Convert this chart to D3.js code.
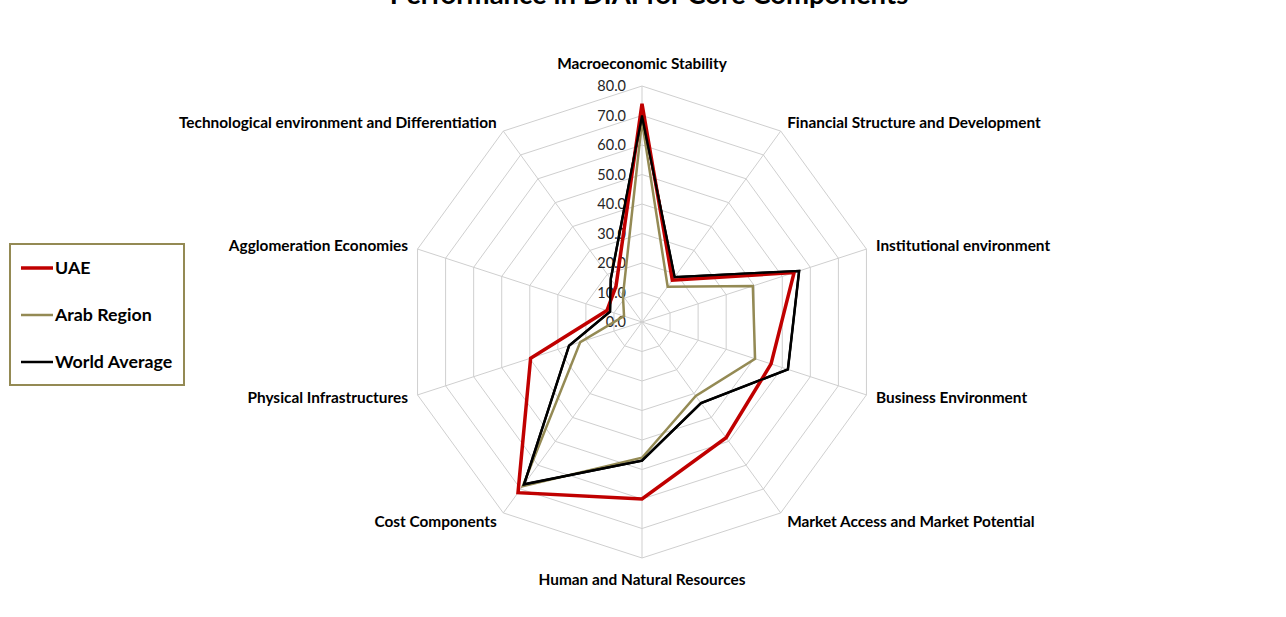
<!DOCTYPE html>
<html><head><meta charset="utf-8">
<script src="https://cdn.jsdelivr.net/npm/d3@7"></script>
<style>
html,body{margin:0;padding:0;background:#fff;}
svg{display:block;font-family:Lato,"Open Sans",sans-serif;}
</style></head>
<body><svg id="c" width="1286" height="617"></svg>
<script>
const title = "Performance in DIAI for Core Components";
const categories = ["Macroeconomic Stability","Financial Structure and Development","Institutional environment","Business Environment","Market Access and Market Potential","Human and Natural Resources","Cost Components","Physical Infrastructures","Agglomeration Economies","Technological environment and Differentiation"];
const uae   = [74, 17.5, 54.2, 46, 48.5, 60, 71.5, 39.7, 12.5, 15];
const arab  = [68, 14.8, 39.5, 40.3, 31, 46, 68.8, 22, 6.4, 11];
const world = [70, 18.8, 56, 52, 34, 47, 68, 26, 11.4, 18];
const seriesNames = ["UAE","Arab Region","World Average"];
const tickValues = [0,10,20,30,40,50,60,70,80];

const svg = d3.select("#c");
const cx = 642, cy = 322;
const r = d3.scaleLinear().domain([0,80]).range([0,236]);
const ang = d3.scaleLinear().domain([0,categories.length]).range([0,2*Math.PI]);
const pt = (i,v)=>[cx + r(v)*Math.sin(ang(i)), cy - r(v)*Math.cos(ang(i))];

// grid polygons
const g = svg.append("g");
tickValues.slice(1).forEach(t=>{
  g.append("polygon")
   .attr("points", categories.map((c,i)=>pt(i,t).join(",")).join(" "))
   .attr("fill","none").attr("stroke","#cfcfcf").attr("stroke-width",1);
});
categories.forEach((c,i)=>{
  const p = pt(i,80);
  g.append("line").attr("x1",cx).attr("y1",cy).attr("x2",p[0]).attr("y2",p[1])
   .attr("stroke","#cfcfcf").attr("stroke-width",1);
});

// tick labels
svg.append("g").selectAll("text").data(tickValues).join("text")
  .attr("x",626).attr("y",d=>cy - r(d)).attr("dy","0.35em")
  .attr("text-anchor","end").attr("font-size",14.5).attr("fill","#262626")
  .text(d=>d.toFixed(1));

// series
const series = [
  {name:seriesNames[1], data:arab, color:"#948A54", w:2.5},
  {name:seriesNames[2], data:world, color:"#000000", w:2.5},
  {name:seriesNames[0], data:uae, color:"#C00000", w:3.5}
];
const line = d3.line().curve(d3.curveLinearClosed);
series.forEach(s=>{
  svg.append("path").attr("d", line(s.data.map((v,i)=>pt(i,v))))
    .attr("fill","none").attr("stroke",s.color).attr("stroke-width",s.w)
    .attr("stroke-linejoin","miter");
});
svg.append("path").attr("d", line(world.map((v,i)=>pt(i,v))))
    .attr("fill","none").attr("stroke","#000").attr("stroke-width",2.2);

// category labels
const labelR = [258,247,246,246,247,258,247,246,246,247];
svg.append("g").selectAll("text").data(categories).join("text")
  .attr("x",(d,i)=>cx + labelR[i]*Math.sin(ang(i)))
  .attr("y",(d,i)=>cy - labelR[i]*Math.cos(ang(i)))
  .attr("dy","0.35em")
  .attr("text-anchor",(d,i)=>{const s=Math.sin(ang(i)); return Math.abs(s)<0.01?"middle":(s>0?"start":"end");})
  .attr("font-size",15.4).attr("font-weight","bold").attr("fill","#000")
  .text(d=>d);

// title
svg.append("text").attr("x",649).attr("y",4).attr("text-anchor","middle")
  .attr("font-size",27.5).attr("font-weight","bold").text(title);

// legend
const lg = svg.append("g");
lg.append("rect").attr("x",10).attr("y",244).attr("width",174).attr("height",141)
  .attr("fill","#fff").attr("stroke","#948A54").attr("stroke-width",2);
const legendItems = [
  {name:seriesNames[0], color:"#C00000", w:3.5},
  {name:seriesNames[1], color:"#948A54", w:2.5},
  {name:seriesNames[2], color:"#000000", w:2.5}
];
legendItems.forEach((it,k)=>{
  const y = 268 + k*47;
  lg.append("line").attr("x1",21).attr("x2",53).attr("y1",y).attr("y2",y)
    .attr("stroke",it.color).attr("stroke-width",it.w);
  lg.append("text").attr("x",55).attr("y",y).attr("dy","0.35em")
    .attr("font-size",17.8).attr("font-weight","bold").text(it.name);
});
</script></body></html>
